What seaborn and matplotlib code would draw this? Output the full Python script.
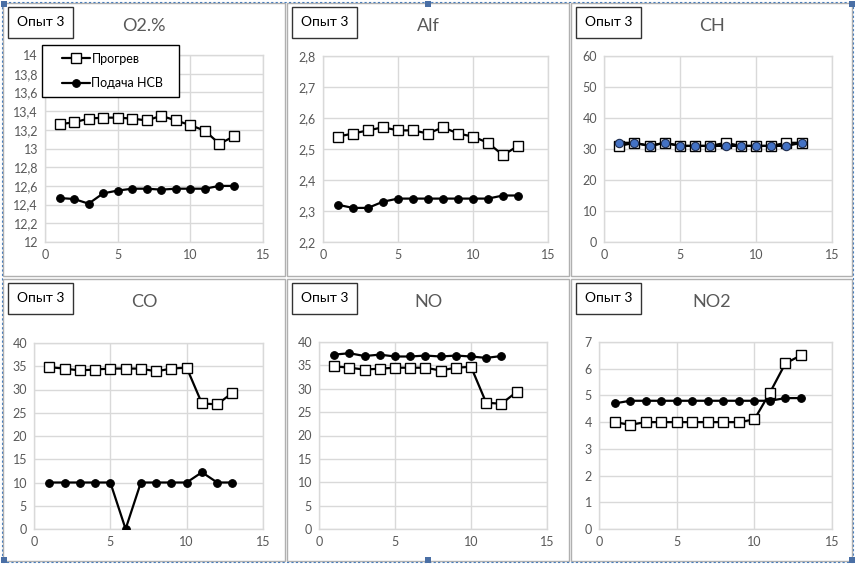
import numpy as np
import matplotlib
matplotlib.use('Agg')
import matplotlib.pyplot as plt
import matplotlib.patches as mpatches
from matplotlib.ticker import FuncFormatter, MultipleLocator
import seaborn as sns

sns.set_theme(style="white")
plt.rcParams['font.family'] = ['Lato', 'Noto Sans', 'DejaVu Sans']

W, H = 856, 564

# data
x13 = list(range(1, 14))
x12 = list(range(1, 13))

o2_warm = [13.26, 13.28, 13.32, 13.33, 13.33, 13.32, 13.30, 13.35, 13.30, 13.25, 13.19, 13.05, 13.13]
o2_nsv = [12.47, 12.46, 12.41, 12.52, 12.55, 12.57, 12.57, 12.56, 12.57, 12.57, 12.57, 12.60, 12.60]

alf_warm = [2.54, 2.55, 2.56, 2.57, 2.56, 2.56, 2.55, 2.57, 2.55, 2.54, 2.52, 2.48, 2.51]
alf_nsv = [2.32, 2.31, 2.31, 2.33, 2.34, 2.34, 2.34, 2.34, 2.34, 2.34, 2.34, 2.35, 2.35]

ch_warm = [31, 32, 31, 32, 31, 31, 31, 32, 31, 31, 31, 32, 32]
ch_nsv = [32, 32, 31, 32, 31, 31, 31, 31, 31, 31, 31, 31, 32]

co_warm = [34.8, 34.5, 34.1, 34.3, 34.5, 34.5, 34.5, 33.9, 34.5, 34.7, 27.0, 26.8, 29.3]
co_nsv = [10, 10, 10, 10, 10, 0, 10, 10, 10, 10, 12.2, 10, 10]

no_warm = [34.8, 34.5, 34.1, 34.3, 34.5, 34.5, 34.5, 33.9, 34.5, 34.7, 27.0, 26.8, 29.3]
no_nsv = [37.3, 37.6, 37.0, 37.3, 36.9, 36.9, 37.1, 36.9, 37.1, 36.9, 36.6, 37.0]

no2_warm = [4.0, 3.9, 4.0, 4.0, 4.0, 4.0, 4.0, 4.0, 4.0, 4.1, 5.1, 6.2, 6.5]
no2_nsv = [4.7, 4.8, 4.8, 4.8, 4.8, 4.8, 4.8, 4.8, 4.8, 4.8, 4.8, 4.9, 4.9]

titles = ["O2.%", "Alf", "CH", "CO", "NO", "NO2"]
label_warm = "Прогрев"
label_nsv = "Подача НСВ"
box_text = "Опыт 3"

GRAY_TXT = "#595959"
GRID = "#d9d9d9"


def px_rect(x0, y0, x1, y1):
    # pixel box (top-left origin) -> figure fraction [l, b, w, h]
    return [x0 / W, 1 - y1 / H, (x1 - x0) / W, (y1 - y0) / H]


def fmt_comma(v, pos):
    s = ('%.1f' % v).rstrip('0').rstrip('.')
    return s.replace('.', ',')


fig = plt.figure(figsize=(W / 100, H / 100), dpi=100)

# panel frames
panels = [(3, 3, 285, 276), (287, 3, 569, 276), (571, 3, 852, 276),
          (3, 279, 285, 561), (287, 279, 569, 561), (571, 279, 852, 561)]
for (x0, y0, x1, y1) in panels:
    r = mpatches.Rectangle((x0 / W, 1 - y1 / H), (x1 - x0) / W, (y1 - y0) / H,
                           transform=fig.transFigure, fill=False,
                           edgecolor="#b0b0b0", linewidth=1.0)
    fig.patches.append(r)

# outer dashed selection border
sel = mpatches.Rectangle((2 / W, 1 - 562 / H), 851 / W, 560 / H,
                         transform=fig.transFigure, fill=False,
                         edgecolor="#4a7ebb", linewidth=0.8, linestyle=(0, (2, 2)))
fig.patches.append(sel)
for hx, hy in [(4, 4), (428, 4), (852, 4), (4, 560), (428, 560), (852, 560)]:
    h = mpatches.Rectangle(((hx - 3) / W, 1 - (hy + 3) / H), 6 / W, 6 / H,
                           transform=fig.transFigure, facecolor="#4a6fa5",
                           edgecolor="none")
    fig.patches.append(h)

axes_px = [(45, 55, 263, 242), (323, 56, 548, 242), (604, 56, 832, 242),
           (34, 343, 263, 529), (319, 342, 547, 529), (599, 342, 832, 529)]
ylims = [(12, 14, 0.2), (2.2, 2.8, 0.1), (0, 60, 10),
         (0, 40, 5), (0, 40, 5), (0, 7, 1)]
series = [(o2_warm, o2_nsv), (alf_warm, alf_nsv), (ch_warm, ch_nsv),
          (co_warm, co_nsv), (no_warm, no_nsv), (no2_warm, no2_nsv)]

for i, (pos, (y0, y1, step), (warm, nsv)) in enumerate(zip(axes_px, ylims, series)):
    ax = fig.add_axes(px_rect(*pos))
    xs_nsv = x13 if len(nsv) == 13 else x12
    nsv_face = "#4472c4" if i == 2 else "black"
    nsv_edge = "#1f2d4d" if i == 2 else "black"
    nsv_ms = 6 if i == 2 else 5.5
    sns.lineplot(x=x13, y=warm, ax=ax, color="black", linewidth=1.6,
                 marker="s", markersize=7.5, markerfacecolor="white",
                 markeredgecolor="black", markeredgewidth=1.0,
                 label=label_warm, zorder=3)
    sns.lineplot(x=xs_nsv, y=nsv, ax=ax, color="black", linewidth=1.6,
                 marker="o", markersize=nsv_ms, markerfacecolor=nsv_face,
                 markeredgecolor=nsv_edge, markeredgewidth=0.8,
                 label=label_nsv, zorder=4)
    ax.set_xlim(0, 15)
    ax.set_ylim(y0, y1)
    ax.xaxis.set_major_locator(MultipleLocator(5))
    ax.yaxis.set_major_locator(MultipleLocator(step))
    ax.yaxis.set_major_formatter(FuncFormatter(fmt_comma))
    ax.grid(True, color=GRID, linewidth=1.0)
    ax.set_axisbelow(True)
    for s in ax.spines.values():
        s.set_color(GRID)
        s.set_linewidth(1.0)
    ax.tick_params(axis='both', length=0, labelsize=9, colors=GRAY_TXT, pad=5)
    ax.set_xlabel("")
    ax.set_ylabel("")
    ax.get_legend().remove()

    if i == 0:
        # legend frame drawn by hand so the padding matches the reference
        frame = mpatches.Rectangle((-0.014, 0.775), 0.629, 0.278,
                                   transform=ax.transAxes, facecolor="white",
                                   edgecolor="black", linewidth=1.0,
                                   clip_on=False, zorder=9)
        ax.add_patch(frame)
        leg = ax.legend(loc="upper left", bbox_to_anchor=(0.078, 1.012),
                        frameon=False, fontsize=9, handlelength=2.25,
                        borderpad=0, borderaxespad=0, labelspacing=1.0,
                        handletextpad=0.1)
        leg.set_zorder(10)
        for t in leg.get_texts():
            t.set_color("black")

    # panel title and 'Опыт 3' box
    px0, py0, px1, py1 = panels[i]
    cx = (px0 + px1) / 2
    fig.text(cx / W, 1 - (py0 + 23) / H, titles[i], ha="center", va="center",
             fontsize=13, color=GRAY_TXT)
    bx = mpatches.Rectangle(((px0 + 5) / W, 1 - (py0 + 35) / H), 65 / W, 31 / H,
                            transform=fig.transFigure, facecolor="white",
                            edgecolor="#333333", linewidth=1.0)
    fig.patches.append(bx)
    fig.text((px0 + 37.5) / W, 1 - (py0 + 19.5) / H, box_text, ha="center",
             va="center", fontsize=10, color="black")

fig.savefig("out.png", dpi=100)
